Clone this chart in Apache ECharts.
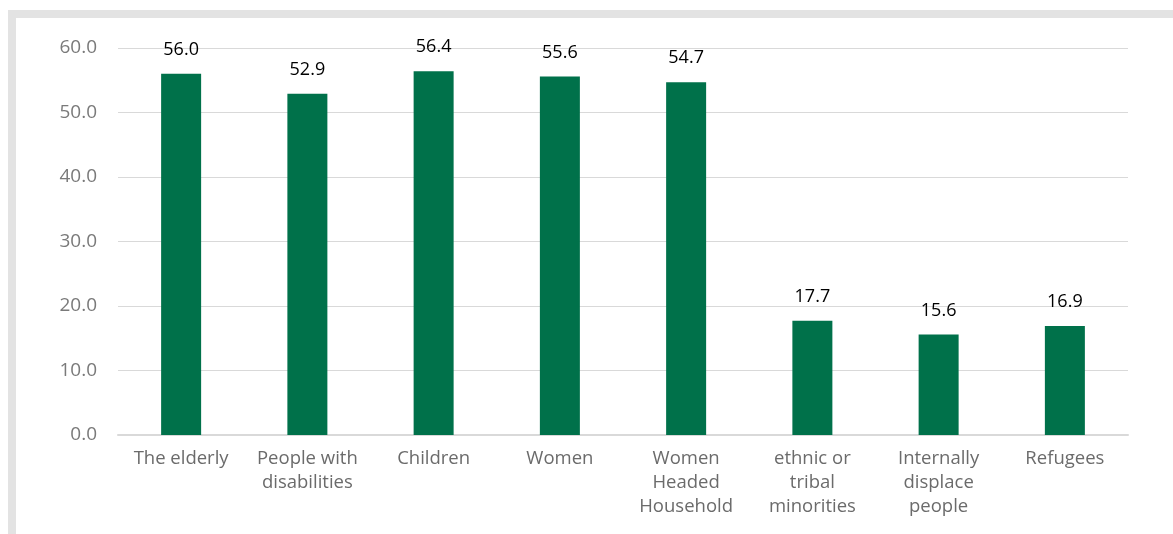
<!DOCTYPE html>
<html>
<head>
<meta charset="utf-8">
<script src="https://cdn.jsdelivr.net/npm/echarts@6/dist/echarts.min.js"></script>
<style>
  html, body { margin: 0; padding: 0; background: #fff; }
  #main { width: 1173px; height: 534px; }
</style>
</head>
<body>
<div id="main"></div>
<script>
var categories = ['The elderly', 'People with\ndisabilities', 'Children', 'Women',
    'Women\nHeaded\nHousehold', 'ethnic or\ntribal\nminorities', 'Internally\ndisplace\npeople', 'Refugees'];
var values = [56.0, 52.9, 56.4, 55.6, 54.7, 17.7, 15.6, 16.9];

var fontName = 'Open Sans';

var chart = echarts.init(document.getElementById('main'));
chart.setOption({
    animation: false,
    graphic: [
        // frame around the chart (top and left strips)
        { type: 'rect', shape: { x: 8, y: 10, width: 1165, height: 8 }, style: { fill: '#e3e3e3' } },
        { type: 'rect', shape: { x: 8, y: 10, width: 8, height: 524 }, style: { fill: '#e3e3e3' } }
    ],
    grid: { left: 118, right: 45, top: 48, bottom: 99 },
    xAxis: {
        type: 'category',
        data: categories,
        axisTick: { show: false },
        axisLine: { lineStyle: { color: '#d9d9d9', width: 2 } },
        axisLabel: {
            color: '#6b6b6b',
            fontSize: 18.5,
            fontFamily: fontName,
            lineHeight: 24,
            margin: 12,
            interval: 0
        }
    },
    yAxis: {
        type: 'value',
        min: 0,
        max: 60,
        interval: 10,
        axisLine: { show: false },
        axisTick: { show: false },
        splitLine: { lineStyle: { color: '#d9d9d9', width: 1 } },
        axisLabel: {
            color: '#7a7a7a',
            fontSize: 19,
            fontFamily: fontName,
            margin: 21,
            formatter: function (v) { return v.toFixed(1); }
        }
    },
    series: [{
        type: 'bar',
        data: values,
        barWidth: 40,
        itemStyle: { color: '#00714a' },
        label: {
            show: true,
            position: 'top',
            distance: 15,
            color: '#000',
            fontSize: 18,
            fontFamily: fontName,
            formatter: function (p) { return p.value.toFixed(1); }
        }
    }]
});
</script>
</body>
</html>
